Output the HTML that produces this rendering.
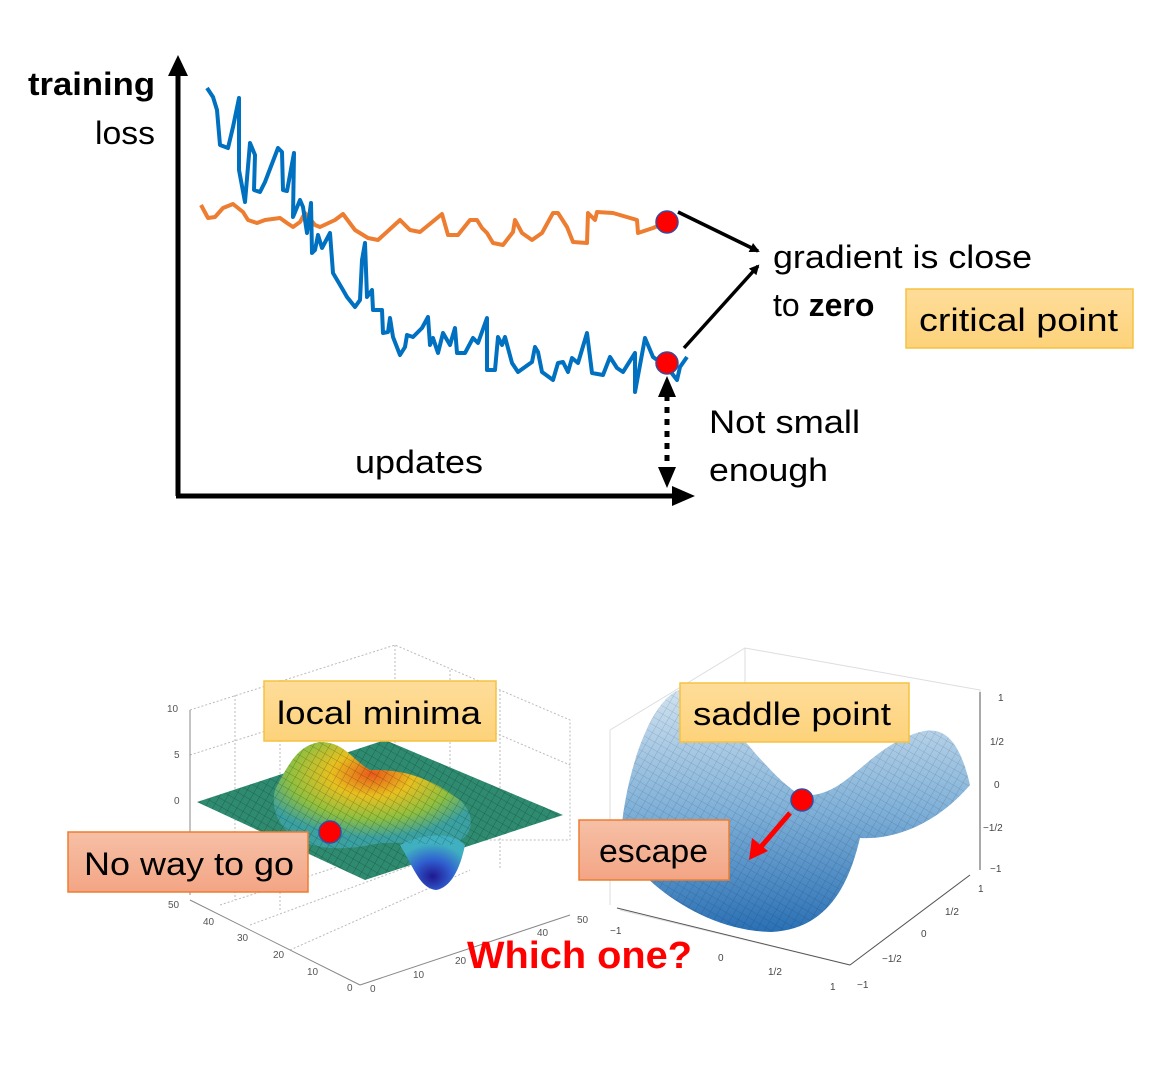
<!DOCTYPE html>
<html><head><meta charset="utf-8"><style>
html,body{margin:0;padding:0;background:#fff;}
svg{display:block;}
text{font-family:"Liberation Sans",sans-serif;}
</style></head><body>
<svg width="1172" height="1088" viewBox="0 0 1172 1088" xmlns="http://www.w3.org/2000/svg">
<defs>
<marker id="ah" markerWidth="10" markerHeight="10" refX="8" refY="5" orient="auto" markerUnits="userSpaceOnUse"><path d="M0,0 L10,5 L0,10 z" fill="#000"/></marker>
<linearGradient id="yel" x1="0" y1="0" x2="0" y2="1"><stop offset="0" stop-color="#fedd9a"/><stop offset="1" stop-color="#fdd27a"/></linearGradient>
<linearGradient id="sal" x1="0" y1="0" x2="0" y2="1"><stop offset="0" stop-color="#f6c0a6"/><stop offset="1" stop-color="#f3a585"/></linearGradient>
<radialGradient id="peak" cx="0.5" cy="0.3" r="0.6"><stop offset="0" stop-color="#e85a1a"/><stop offset="0.35" stop-color="#e8c020"/><stop offset="0.7" stop-color="#8fc040"/><stop offset="1" stop-color="#3aa0a0"/></radialGradient>
<radialGradient id="pit" cx="0.5" cy="0.75" r="0.6"><stop offset="0" stop-color="#201890"/><stop offset="0.5" stop-color="#3060d0"/><stop offset="1" stop-color="#40b0c0"/></radialGradient>
<linearGradient id="sad" x1="0" y1="0" x2="0" y2="1"><stop offset="0" stop-color="#d0e2f0"/><stop offset="0.5" stop-color="#7fb0d8"/><stop offset="1" stop-color="#2a70b5"/></linearGradient>
<pattern id="mesh" width="7" height="7" patternUnits="userSpaceOnUse" patternTransform="rotate(30)"><path d="M0,0 L7,0 M0,0 L0,7" stroke="#000" stroke-opacity="0.35" stroke-width="0.8"/></pattern>
</defs>

<!-- axes -->
<line x1="178" y1="496" x2="178" y2="70" stroke="#000" stroke-width="5"/>
<path d="M168,76 L178,55 L188,76 z" fill="#000"/>
<line x1="176" y1="496" x2="680" y2="496" stroke="#000" stroke-width="5"/>
<path d="M672,486 L695,496 L672,506 z" fill="#000"/>
<text x="155" y="95" font-size="32" font-weight="bold" text-anchor="end" textLength="127" lengthAdjust="spacingAndGlyphs">training</text>
<text x="155" y="144" font-size="32" text-anchor="end" textLength="60" lengthAdjust="spacingAndGlyphs">loss</text>
<text x="355" y="473" font-size="32" textLength="128" lengthAdjust="spacingAndGlyphs">updates</text>

<!-- orange -->
<polyline fill="none" stroke="#ed7d31" stroke-width="4" stroke-linejoin="round" points="201,205 208,218 215,217 223,208 233,204 243,212 248,220 257,223 265,220 280,218 287,223 293,227 300,222 305,213 315,225 320,227 335,220 343,214 355,230 368,238 378,240 400,220 410,230 420,232 442,214 448,235 458,235 470,220 477,220 482,228 487,233 493,243 503,245 513,232 515,220 522,233 532,240 542,233 553,213 558,213 567,227 573,242 587,243 588,213 595,220 597,212 613,213 637,220 638,233 653,228 667,222"/>
<!-- blue -->
<polyline fill="none" stroke="#0070c0" stroke-width="4" stroke-linejoin="round" points="207,88 213,97 217,110 220,145 228,148 233,127 239,98 239,170 245,202 250,143 255,155 254,190 260,192 265,182 278,148 282,152 283,190 287,191 294,153 293,217 300,200 303,207 307,233 311,203 312,253 315,250 318,235 322,248 330,233 333,273 343,290 347,297 355,307 360,300 362,260 365,243 367,297 372,290 373,310 382,310 383,333 388,332 390,318 393,337 400,355 405,347 407,335 413,337 422,328 428,317 430,345 433,338 438,353 443,333 450,345 455,328 457,353 465,353 473,338 478,343 487,318 487,370 495,370 498,337 502,345 505,337 512,363 518,372 532,362 535,347 538,352 542,372 553,380 558,363 563,362 568,372 572,358 578,363 587,333 592,373 603,375 610,357 617,368 623,372 635,353 635,392 645,338 653,357 667,367 677,380 680,367 687,357"/>
<circle cx="667" cy="222" r="11" fill="#f00" stroke="#3a4a9a" stroke-width="1.5"/>
<circle cx="667" cy="363" r="11" fill="#f00" stroke="#3a4a9a" stroke-width="1.5"/>
<line x1="678" y1="212" x2="758" y2="251" stroke="#000" stroke-width="3.5" marker-end="url(#ah)"/>
<line x1="684" y1="348" x2="758" y2="266" stroke="#000" stroke-width="3.5" marker-end="url(#ah)"/>
<line x1="667" y1="395" x2="667" y2="470" stroke="#000" stroke-width="5" stroke-dasharray="6,6"/>
<path d="M658,397 L667,376 L676,397 z" fill="#000"/>
<path d="M658,467 L667,488 L676,467 z" fill="#000"/>

<text x="773" y="268" font-size="32" textLength="259" lengthAdjust="spacingAndGlyphs">gradient is close</text>
<text x="773" y="316" font-size="32">to <tspan font-weight="bold">zero</tspan></text>
<rect x="906" y="289" width="227" height="59" fill="url(#yel)" stroke="#f5c242" stroke-width="1.5"/>
<text x="919" y="331" font-size="32" textLength="199" lengthAdjust="spacingAndGlyphs">critical point</text>
<text x="709" y="433" font-size="32" textLength="151" lengthAdjust="spacingAndGlyphs">Not small</text>
<text x="709" y="481" font-size="32" textLength="119" lengthAdjust="spacingAndGlyphs">enough</text>

<!-- left 3D plot -->
<g stroke="#bbb" stroke-width="1" stroke-dasharray="2,2" fill="none">
<path d="M190,710 L395,645 L570,720 L570,840"/>
<path d="M395,645 L395,760"/>
<path d="M190,755 L395,690 L570,765"/>
<path d="M235,695 L235,900 M280,680 L280,910 M450,670 L450,880 M500,690 L500,870"/>
<path d="M220,905 L420,840 L570,840 M250,925 L440,855 M290,950 L470,870"/>
</g>
<line x1="190" y1="710" x2="190" y2="895" stroke="#888" stroke-width="1"/>
<line x1="190" y1="900" x2="360" y2="985" stroke="#888" stroke-width="1"/>
<line x1="360" y1="985" x2="570" y2="915" stroke="#888" stroke-width="1"/>
<g font-size="10" fill="#555">
<text x="167" y="712">10</text><text x="174" y="758">5</text><text x="174" y="804">0</text>
<text x="168" y="908">50</text><text x="203" y="925">40</text><text x="237" y="941">30</text><text x="273" y="958">20</text><text x="307" y="975">10</text><text x="347" y="991">0</text>
<text x="370" y="992">0</text><text x="413" y="978">10</text><text x="455" y="964">20</text><text x="537" y="936">40</text><text x="577" y="923">50</text>
</g>
<path d="M197,802 L385,740 L563,815 L365,880 z" fill="#2e8b70"/>
<path d="M197,802 L385,740 L563,815 L365,880 z" fill="url(#mesh)"/>
<path d="M275,790 C290,760 300,745 320,742 C345,742 352,760 370,770 C390,770 420,770 460,800 C480,820 470,840 450,845 C420,845 390,840 370,845 C345,850 320,850 300,840 C280,830 270,810 275,790 z" fill="url(#peak)"/>
<path d="M400,845 C420,835 450,830 465,845 C460,870 450,888 436,890 C420,888 415,870 400,845 z" fill="url(#pit)"/>
<path d="M275,790 C290,760 300,745 320,742 C345,742 352,760 370,770 C390,770 420,770 460,800 C480,820 470,840 450,845 C420,845 390,840 370,845 C345,850 320,850 300,840 C280,830 270,810 275,790 z" fill="url(#mesh)"/>
<circle cx="330" cy="832" r="11" fill="#f00" stroke="#3a4a9a" stroke-width="1.5"/>
<rect x="264" y="681" width="232" height="60" fill="url(#yel)" stroke="#f5c242" stroke-width="1.5"/>
<text x="277" y="724" font-size="32" textLength="204" lengthAdjust="spacingAndGlyphs">local minima</text>
<rect x="68" y="832" width="240" height="60" fill="url(#sal)" stroke="#ed7d31" stroke-width="1.5"/>
<text x="84" y="875" font-size="32" textLength="210" lengthAdjust="spacingAndGlyphs">No way to go</text>

<!-- right 3D plot -->
<g stroke="#ddd" stroke-width="1" fill="none">
<path d="M610,730 L745,648 L980,690 L980,870"/>
<path d="M745,648 L745,830 M610,730 L610,905"/>
<path d="M620,910 L850,965 L970,875"/>
</g>
<line x1="980" y1="692" x2="980" y2="870" stroke="#555" stroke-width="1"/>
<line x1="617" y1="908" x2="850" y2="965" stroke="#555" stroke-width="1"/>
<line x1="850" y1="965" x2="970" y2="875" stroke="#555" stroke-width="1"/>
<g font-size="10" fill="#444" font-family="Liberation Serif">
<text x="998" y="701">1</text><text x="990" y="745">1/2</text><text x="994" y="788">0</text><text x="983" y="831">−1/2</text><text x="990" y="872">−1</text>
<text x="978" y="892">1</text><text x="945" y="915">1/2</text><text x="921" y="937">0</text><text x="882" y="962">−1/2</text><text x="857" y="988">−1</text>
<text x="610" y="934">−1</text><text x="718" y="961">0</text><text x="768" y="975">1/2</text><text x="830" y="990">1</text>
</g>
<path d="M620,845 C625,760 660,680 690,690 C720,700 760,770 800,795 C840,800 860,760 900,740 C930,725 955,720 970,785 C940,820 900,840 860,838 C850,880 830,930 770,932 C700,930 640,880 620,845 z" fill="url(#sad)"/>
<path d="M620,845 C625,760 660,680 690,690 C720,700 760,770 800,795 C840,800 860,760 900,740 C930,725 955,720 970,785 C940,820 900,840 860,838 C850,880 830,930 770,932 C700,930 640,880 620,845 z" fill="url(#mesh)" opacity="0.6"/>
<circle cx="802" cy="800" r="11" fill="#f00" stroke="#3a4a9a" stroke-width="1.5"/>
<line x1="790" y1="813" x2="760" y2="848" stroke="#f00" stroke-width="5"/>
<path d="M749,860 L752,838 L768,851 z" fill="#f00"/>
<rect x="680" y="683" width="229" height="59" fill="url(#yel)" stroke="#f5c242" stroke-width="1.5"/>
<text x="693" y="725" font-size="32" textLength="198" lengthAdjust="spacingAndGlyphs">saddle point</text>
<rect x="579" y="820" width="150" height="60" fill="url(#sal)" stroke="#ed7d31" stroke-width="1.5"/>
<text x="599" y="862" font-size="32" textLength="109" lengthAdjust="spacingAndGlyphs">escape</text>

<text x="467" y="968" font-size="38" font-weight="bold" fill="#f00" textLength="225" lengthAdjust="spacingAndGlyphs">Which one?</text>
</svg>
</body></html>
